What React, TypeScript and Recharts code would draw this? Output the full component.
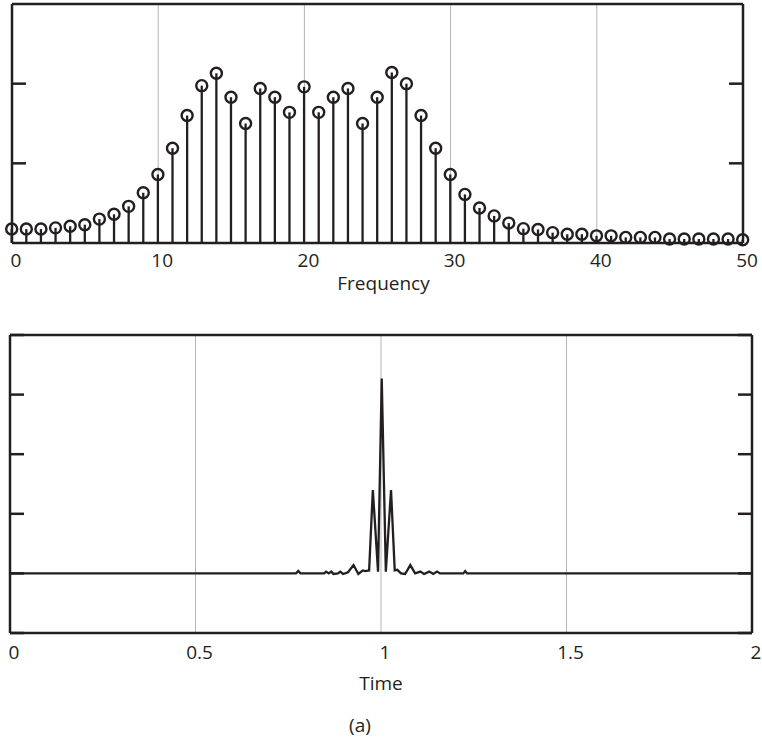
import { ComposedChart, LineChart, Bar, Line, XAxis, YAxis, CartesianGrid, ReferenceLine, Label } from 'recharts';

const INK = '#231f20';
const GRID = '#b5b5b5';
const FONT = '"Open Sans", "Noto Sans", sans-serif';

// top panel: magnitude spectrum, one stem per frequency bin 0..50
const frecuencias = Array.from({ length: 51 }, (_, k) => k);
const magnitudes = [
  0.175, 0.175, 0.175, 0.19, 0.21, 0.23, 0.3, 0.36, 0.46, 0.63,
  0.86, 1.19, 1.6, 1.975, 2.13, 1.83, 1.5, 1.94, 1.83, 1.64,
  1.96, 1.64, 1.83, 1.94, 1.5, 1.83, 2.14, 2.0, 1.6, 1.19,
  0.86, 0.61, 0.44, 0.34, 0.25, 0.18, 0.17, 0.13, 0.11, 0.11,
  0.09, 0.09, 0.07, 0.07, 0.07, 0.05, 0.05, 0.05, 0.05, 0.05,
  0.04,
];
const ticksFrecuencia = [0, 10, 20, 30, 40, 50];

// bottom panel: time signal (flat except around t = 1)
const tiempos = [
  0, 0.771, 0.777, 0.783, 0.847, 0.852, 0.859, 0.866, 0.872, 0.884,
  0.89, 0.898, 0.911, 0.926, 0.939, 0.951, 0.957, 0.968, 0.978, 0.992,
  1.002, 1.013, 1.027, 1.037, 1.044, 1.054, 1.065, 1.079, 1.092, 1.106,
  1.116, 1.13, 1.141, 1.151, 1.159, 1.222, 1.227, 1.232, 2,
];
const senal = [
  0, 0, 0.04, 0, 0, 0.03, 0, 0.03, -0.01, 0,
  0.03, -0.01, 0.02, 0.14, -0.01, 0.05, 0.04, 0.05, 1.4, 0.03,
  3.27, 0.03, 1.4, 0.05, 0.06, 0, -0.01, 0.14, 0, 0.03,
  -0.01, 0.03, -0.01, 0.03, 0, 0, 0.04, 0, 0,
];
const ticksTiempo = [0, 0.5, 1, 1.5, 2];

const datosEspectro = frecuencias.map((f, i) => ({ f, mag: magnitudes[i] }));
const datosTiempo = tiempos.map((t, i) => ({ t, v: senal[i] }));

// stem + open circle
const Tallo = (props: any) => {
  const { x, y, width, height } = props;
  const cx = x + width / 2;
  return (
    <g>
      <line x1={cx} y1={y + height} x2={cx} y2={y} stroke={INK} strokeWidth={2.3} />
      <circle cx={cx} cy={y} r={5.5} fill="none" stroke={INK} strokeWidth={2.4} />
    </g>
  );
};

const sinTexto = () => <g />;

const TickX = ({ x, y, payload }: any) => (
  <text x={x + 4} y={y} dy="0.71em" textAnchor="middle" fontSize={19} fill={INK}>
    {payload.value}
  </text>
);

const ejeProps = { stroke: INK, strokeWidth: 2.5 };

export default function App() {
  return (
    <div style={{ position: 'absolute', left: 0, top: 0, width: 762, height: 738, fontFamily: FONT, background: '#fff' }}>
      <ComposedChart width={762} height={300} data={datosEspectro} margin={{ top: 4, right: 18, bottom: 0, left: 11 }}>
        <CartesianGrid horizontal={false} stroke={GRID} strokeWidth={1} />
        <XAxis
          dataKey="f"
          type="number"
          domain={[0, 50]}
          ticks={ticksFrecuencia}
          height={57}
          tickLine={false}
          tickSize={0}
          tickMargin={11}
          tick={<TickX />}
          axisLine={ejeProps}
        >
          <Label value="Frequency" position="insideBottom" offset={10} dx={6} fontSize={19} fill={INK} />
        </XAxis>
        <YAxis yAxisId="l" domain={[0, 3]} ticks={[1, 2]} width={1} tickSize={-14} tick={sinTexto}
          axisLine={ejeProps} tickLine={ejeProps} />
        <YAxis yAxisId="r" orientation="right" domain={[0, 3]} ticks={[1, 2]} width={1} tickSize={-14} tick={sinTexto}
          axisLine={ejeProps} tickLine={ejeProps} />
        <ReferenceLine yAxisId="l" y={3} stroke={INK} strokeWidth={2.5} />
        <Bar yAxisId="l" dataKey="mag" barSize={2} fill={INK} shape={Tallo} isAnimationActive={false} />
        {/* keeps the right-hand axis bound to the data */}
        <Line yAxisId="r" dataKey="mag" stroke="none" dot={false} activeDot={false} isAnimationActive={false} />
      </ComposedChart>

      <LineChart width={762} height={438} data={datosTiempo} margin={{ top: 35, right: 9, bottom: 0, left: 9 }}>
        <CartesianGrid horizontal={false} stroke={GRID} strokeWidth={1} />
        <XAxis
          dataKey="t"
          type="number"
          domain={[0, 2]}
          ticks={ticksTiempo}
          height={105}
          tickLine={false}
          tickSize={0}
          tickMargin={13}
          tick={<TickX />}
          axisLine={ejeProps}
        >
          <Label value="Time" position="insideBottom" offset={48} fontSize={19} fill={INK} />
        </XAxis>
        <YAxis yAxisId="l" domain={[-1, 4]} ticks={[-1, 0, 1, 2, 3, 4]} width={1} tickSize={-14} tick={sinTexto}
          axisLine={ejeProps} tickLine={ejeProps} />
        <YAxis yAxisId="r" orientation="right" domain={[-1, 4]} ticks={[-1, 0, 1, 2, 3, 4]} width={1} tickSize={-14} tick={sinTexto}
          axisLine={ejeProps} tickLine={ejeProps} />
        <ReferenceLine yAxisId="l" y={4} stroke={INK} strokeWidth={2.5} />
        <Line yAxisId="r" type="linear" dataKey="v" stroke="none" dot={false} activeDot={false} isAnimationActive={false} />
        <Line yAxisId="l" type="linear" dataKey="v" stroke={INK} strokeWidth={2.3} dot={false} isAnimationActive={false} />
      </LineChart>

      <div style={{ position: 'absolute', left: -21, width: 762, top: 716, textAlign: 'center', fontSize: 19, color: INK, lineHeight: '19px' }}>
        (a)
      </div>
    </div>
  );
}
